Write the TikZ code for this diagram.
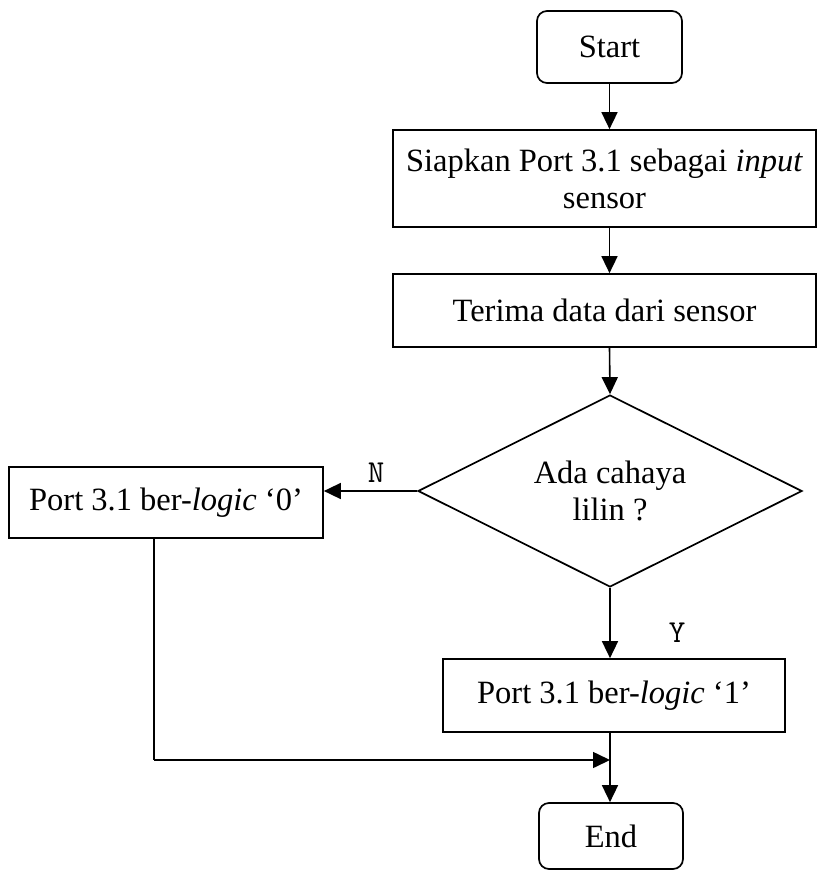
\documentclass[tikz,border=0pt]{standalone}
\usepackage{fontspec}
\setmainfont{Liberation Serif}
\usetikzlibrary{shapes.geometric,arrows.meta}

\tikzset{
  base/.style={draw, line width=1.7pt, inner sep=0pt, align=center,
    font=\fontsize{32.5}{37}\selectfont},
  terminal/.style={base, rounded corners=10pt},
  process/.style={base},
  decision/.style={base, diamond, aspect=2},
  flow/.style={line width=1.6pt, -{Triangle[length=17pt,width=16pt]}},
  plain/.style={line width=1.6pt},
  branch/.style={font=\ttfamily\fontsize{32}{32}\selectfont, inner sep=0pt}
}

\begin{document}
\begin{tikzpicture}[x=1pt, y=-1pt]
  \useasboundingbox (0,0) rectangle (817,872);

  % terminals
  \node[terminal, minimum width=145pt, minimum height=72pt] (start) at (609.5,47) {Start};
  \node[terminal, minimum width=144pt, minimum height=66pt] (stop) at (611,836) {End};

  % process boxes
  \node[process, minimum width=423pt, minimum height=97pt] (init) at (604.5,178.5)
    {Siapkan Port 3.1 sebagai \textit{input}\\sensor};
  \node[process, minimum width=423pt, minimum height=73pt] (read) at (604.5,310.5)
    {Terima data dari sensor};

  % decision
  \node[decision, minimum width=384pt, minimum height=192pt] (dec) at (610,491)
    {Ada cahaya\\lilin ?};

  % outcomes
  \node[process, minimum width=314pt, minimum height=71pt] (low) at (166,502.5)
    {Port 3.1 ber-\textit{logic} `0'};
  \node[process, minimum width=342pt, minimum height=73pt] (high) at (614,695.5)
    {Port 3.1 ber-\textit{logic} `1'};

  % routing points
  \coordinate (turn) at (154,760);
  \coordinate (join) at (dec.south |- turn);

  % connectors
  \draw[flow] (start.south) -- (start.south |- init.north);
  \draw[flow] (start.south |- init.south) -- (start.south |- read.north);
  \draw[flow] (start.south |- read.south) -- (dec.north);
  \draw[flow] (dec.west) -- (dec.west -| low.east);
  \draw[flow] (dec.south) -- (dec.south |- high.north);
  \draw[flow] (dec.south |- high.south) -- (dec.south |- stop.north);
  \draw[plain] (turn |- low.south) -- (turn);
  \draw[flow] (turn) -- (join);

  % branch labels
  \node[branch] (lblN) at (376,473) {N};
  \node[branch] (lblY) at (677,633) {Y};
\end{tikzpicture}
\end{document}
